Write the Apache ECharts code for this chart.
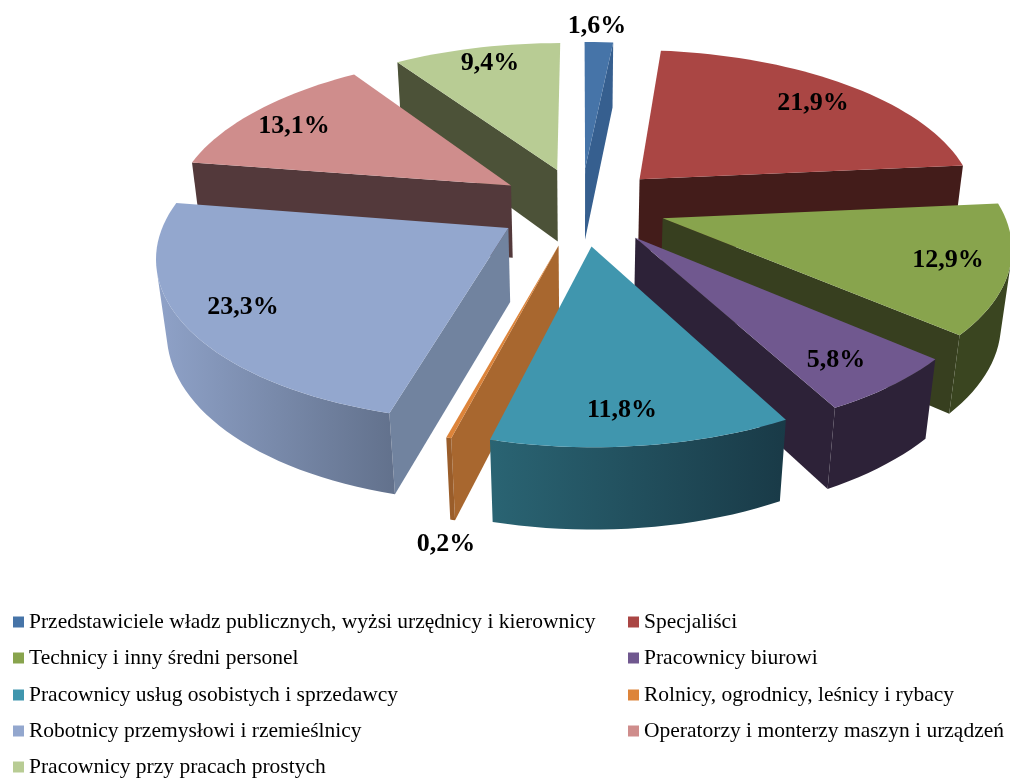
<!DOCTYPE html>
<html><head><meta charset="utf-8">
<style>html,body{margin:0;padding:0;background:#fff}#c{width:1010px;height:778px}</style>
<script src="https://cdn.jsdelivr.net/npm/echarts@6/dist/echarts.min.js"></script>
</head><body><div id="c"></div>
<script>
const categories = [
  'Przedstawiciele władz publicznych, wyżsi urzędnicy i kierownicy',
  'Specjaliści',
  'Technicy i inny średni personel',
  'Pracownicy biurowi',
  'Pracownicy usług osobistych i sprzedawcy',
  'Rolnicy, ogrodnicy, leśnicy i rybacy',
  'Robotnicy przemysłowi i rzemieślnicy',
  'Operatorzy i monterzy maszyn i urządzeń',
  'Pracownicy przy pracach prostych'
];
const shares = [1.6, 21.9, 12.9, 5.8, 11.8, 0.2, 23.3, 13.1, 9.4];

// styles
const topColors  = ['#4674a8','#aa4644','#88a44d','#70588f','#4096ae','#dd843a','#93a7ce','#cf8d8c','#b8cc94'];
const wallColors = ['#365f8f','#431c1a','#373f1f','#2d2238','#2a6473','#a8672f','#71839f','#53393b','#4c5238'];
const rimLeft    = ['#365f8f','#431c1a','#3a4520','#2d2238','#2a6473','#9a5d2a','#8fa2c8','#53393b','#4c5238'];
const rimRight   = ['#365f8f','#431c1a','#3a4520','#2d2238','#193a47','#9a5d2a','#62718c','#53393b','#4c5238'];

// layout: perspective projection of the pie and label / legend placement
const CX = 581, A = 339, Y0 = 206.2, YB = 125.1, DEPTH = 80, PERSP = 0.152, PERSP_D = 0.025, EXPLODE = 0.25;
const MIN_WALL_AREA = 1000;
const labelAt = [[597,26],[813,103],[948,260],[836,360],[622,410],[446,544],[243,307],[294,126],[490,63]];
const legendAt = [[13,611],[628,611],[13,647],[628,647],[13,684],[628,684],[13,720],[628,720],[13,756]];

function project(x, y, d) {
  const s = 1 / (1 + PERSP * y + PERSP_D * d);
  return [CX + A * x * s, (Y0 - YB * y + DEPTH * d) * s];
}
const total = shares.reduce((a, b) => a + b, 0);
let run = 0;
const spans = shares.map(v => { const a0 = run / total * 2 * Math.PI; run += v; return [a0, run / total * 2 * Math.PI]; });
const mids = spans.map(s => (s[0] + s[1]) / 2);

function area(p) {
  let t = 0;
  for (let i = 0; i < p.length; i++) { const q = p[(i + 1) % p.length]; t += p[i][0] * q[1] - q[0] * p[i][1]; }
  return t;
}
function sliceShapes(i) {
  const [a0, a1] = spans[i], m = mids[i];
  const ox = EXPLODE * Math.sin(m), oy = EXPLODE * Math.cos(m);
  const pt = (a, d) => project(ox + Math.sin(a), oy + Math.cos(a), d);
  const apex = d => project(ox, oy, d);
  const steps = Math.max(2, Math.ceil((a1 - a0) / (Math.PI / 90)));
  const angs = []; for (let k = 0; k <= steps; k++) angs.push(a0 + (a1 - a0) * k / steps);
  const out = [];
  const startWall = [apex(0), pt(a0, 0), pt(a0, 1), apex(1)];
  const endWall = [apex(0), pt(a1, 0), pt(a1, 1), apex(1)];
  if (area(startWall) < -MIN_WALL_AREA) out.push({ type: 'polygon', shape: { points: startWall }, style: { fill: wallColors[i] }, silent: true });
  if (area(endWall) > MIN_WALL_AREA) out.push({ type: 'polygon', shape: { points: endWall }, style: { fill: wallColors[i] }, silent: true });
  const tops = [], bots = [];
  for (let k = 0; k < steps; k++) {
    const q = [pt(angs[k], 0), pt(angs[k + 1], 0), pt(angs[k + 1], 1), pt(angs[k], 1)];
    if (area(q) < 0) {
      if (!tops.length) { tops.push(q[0]); bots.push(q[3]); }
      tops.push(q[1]); bots.push(q[2]);
    }
  }
  if (tops.length) {
    out.push({ type: 'polygon', shape: { points: tops.concat(bots.reverse()) }, silent: true,
      style: { fill: new echarts.graphic.LinearGradient(0, 0, 1, 0, [
        { offset: 0, color: rimLeft[i] }, { offset: 1, color: rimRight[i] }]) } });
  }
  out.push({ type: 'polygon', shape: { points: [apex(0)].concat(angs.map(a => pt(a, 0))) }, style: { fill: topColors[i] }, silent: true });
  return out;
}

const order = mids.map((m, i) => [Math.cos(m), i]).sort((p, q) => q[0] - p[0]).map(p => p[1]);
const series = categories.map((name, i) => ({
  type: 'custom', name, coordinateSystem: 'none', silent: true, z: 2 + order.indexOf(i),
  itemStyle: { color: topColors[i] }, data: [[shares[i]]],
  renderItem: () => ({ type: 'group', children: sliceShapes(i) })
}));
series.push({
  type: 'custom', name: 'labels', coordinateSystem: 'none', silent: true, z: 50,
  data: shares.map(v => [v]),
  renderItem: (params, api) => ({
    type: 'text', x: labelAt[params.dataIndex][0], y: labelAt[params.dataIndex][1], silent: true,
    style: { text: api.value(0).toFixed(1).replace('.', ',') + '%', fill: '#000',
      font: 'bold 26px "Liberation Serif"', align: 'center', verticalAlign: 'middle' }
  })
});

const chart = echarts.init(document.getElementById('c'), null, { renderer: 'canvas' });
chart.setOption({
  animation: false, backgroundColor: '#fff',
  legend: categories.map((name, i) => ({
    data: [name], left: legendAt[i][0], top: legendAt[i][1], padding: 0, selectedMode: false,
    icon: 'rect', itemWidth: 11, itemHeight: 11, itemGap: 0,
    textStyle: { fontFamily: 'Liberation Serif', fontSize: 21.5, color: '#000', padding: [1, 0, 0, 0] }
  })),
  series
});
</script></body></html>
